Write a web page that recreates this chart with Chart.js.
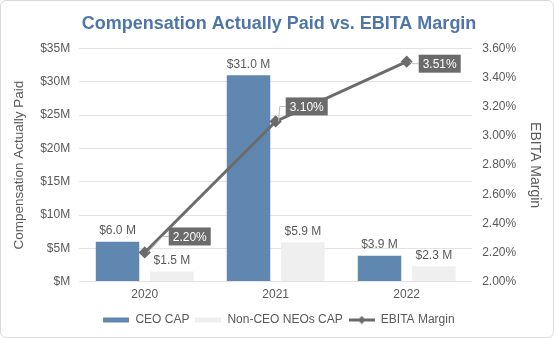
<!DOCTYPE html>
<html>
<head>
<meta charset="utf-8">
<script src="https://cdn.jsdelivr.net/npm/chart.js@4"></script>
<style>
  html, body { margin: 0; padding: 0; background: #ffffff; }
  #frame {
    position: absolute; left: 0; top: 0;
    width: 552px; height: 336px;
    border: 1px solid #d9d9d9; border-radius: 6px;
    background: #ffffff; overflow: hidden;
  }
  canvas { display: block; }
</style>
</head>
<body>
<div id="frame"><canvas id="chart" width="552" height="336"></canvas></div>
<script>
// Fiscal years
const years = ['2020', '2021', '2022'];
// Compensation actually paid, in dollars
const ceoCap = [6.0e6, 31.0e6, 3.9e6];
const nonCeoCap = [1.5e6, 5.9e6, 2.3e6];
// EBITA margin, percent
const ebitaMargin = [2.20, 3.10, 3.51];

const FONT = "'Liberation Sans', Arial, sans-serif";
const GREY_TEXT = '#595959';
const CEO_BLUE = '#6087b0';
const NEO_GREY = '#efefef';
const LINE_GREY = '#6b6b6b';

const moneyLabel = v => '$' + (v / 1e6).toFixed(1) + ' M';
const pctLabel = v => v.toFixed(2) + '%';

// Small legend swatches: flat bars for the columns, a line with a diamond for the margin
function swatch(kind, color) {
  const c = document.createElement('canvas');
  c.width = 26; c.height = 9;
  const g = c.getContext('2d');
  if (kind === 'bar') {
    g.fillStyle = color;
    g.fillRect(0, 2, 26, 5);
  } else {
    g.strokeStyle = color; g.lineWidth = 3;
    g.beginPath(); g.moveTo(0, 4.5); g.lineTo(26, 4.5); g.stroke();
    g.fillStyle = color;
    g.beginPath(); g.moveTo(13, 0.5); g.lineTo(17, 4.5); g.lineTo(13, 8.5); g.lineTo(9, 4.5); g.closePath(); g.fill();
  }
  return c;
}

// Value labels: plain text over the bars, boxed callouts for the margin line
const valueLabels = {
  id: 'valueLabels',
  afterDatasetsDraw(chart, args, opts) {
    const ctx = chart.ctx;
    ctx.save();
    ctx.font = '12px ' + FONT;
    ctx.textAlign = 'center';
    ctx.textBaseline = 'bottom';
    ctx.fillStyle = GREY_TEXT;
    [0, 1].forEach(di => {
      const meta = chart.getDatasetMeta(di);
      meta.data.forEach((bar, i) => {
        const v = chart.data.datasets[di].data[i];
        ctx.fillText(moneyLabel(v), bar.x, bar.y - 5);
      });
    });

    const lineMeta = chart.getDatasetMeta(2);
    lineMeta.data.forEach((pt, i) => {
      const v = chart.data.datasets[2].data[i];
      const off = opts.callouts[i];
      const text = pctLabel(v);
      const w = ctx.measureText(text).width + 8;
      const h = 18;
      const bx = pt.x + off.dx;
      const cy = pt.y + off.dy;
      // leader line
      ctx.strokeStyle = '#bfbfbf';
      ctx.lineWidth = 1;
      ctx.beginPath();
      ctx.moveTo(pt.x + 3, pt.y);
      ctx.lineTo(bx - 6, cy);
      ctx.lineTo(bx, cy);
      ctx.stroke();
      // box
      ctx.fillStyle = LINE_GREY;
      ctx.fillRect(bx, cy - h / 2, w, h);
      ctx.fillStyle = '#ffffff';
      ctx.textAlign = 'left';
      ctx.textBaseline = 'middle';
      ctx.fillText(text, bx + 4, cy + 1);
    });
    ctx.restore();
  }
};

new Chart(document.getElementById('chart'), {
  data: {
    labels: years,
    datasets: [
      {
        type: 'bar', label: 'CEO CAP', data: ceoCap, yAxisID: 'y',
        backgroundColor: CEO_BLUE, order: 2,
        categoryPercentage: 0.83, barPercentage: 0.8
      },
      {
        type: 'bar', label: 'Non-CEO NEOs CAP', data: nonCeoCap, yAxisID: 'y',
        backgroundColor: NEO_GREY, order: 3,
        categoryPercentage: 0.83, barPercentage: 0.8
      },
      {
        type: 'line', label: 'EBITA Margin', data: ebitaMargin, yAxisID: 'y1',
        borderColor: LINE_GREY, backgroundColor: LINE_GREY, borderWidth: 3,
        pointStyle: 'rectRot', pointRadius: 4, pointBackgroundColor: LINE_GREY,
        pointBorderColor: LINE_GREY, tension: 0, order: 1
      }
    ]
  },
  options: {
    responsive: false,
    animation: false,
    devicePixelRatio: 1,
    layout: { padding: { left: 10, right: 6, top: 4, bottom: 1 } },
    plugins: {
      title: {
        display: true,
        text: 'Compensation Actually Paid vs. EBITA Margin',
        color: '#4f76a8',
        font: { family: FONT, size: 18, weight: 'bold' },
        padding: { top: 8, bottom: 14 }
      },
      legend: {
        position: 'bottom',
        labels: {
          color: GREY_TEXT,
          font: { family: FONT, size: 12 },
          usePointStyle: true,
          pointStyleWidth: 26,
          boxHeight: 9,
          padding: 6,
          generateLabels(chart) {
            return chart.data.datasets.map((ds, i) => ({
              text: ds.label,
              fillStyle: ds.backgroundColor,
              strokeStyle: ds.backgroundColor,
              lineWidth: 0,
              pointStyle: swatch(ds.type === 'line' ? 'line' : 'bar', ds.backgroundColor),
              fontColor: GREY_TEXT,
              datasetIndex: i,
              hidden: false
            }));
          }
        }
      },
      tooltip: { enabled: false },
      valueLabels: {
        callouts: [ { dx: 24, dy: -16 }, { dx: 10, dy: -15 }, { dx: 12, dy: 2 } ]
      }
    },
    scales: {
      x: {
        grid: { display: false, drawTicks: false },
        border: { display: false },
        ticks: { color: GREY_TEXT, font: { family: FONT, size: 12 }, padding: 6 }
      },
      y: {
        position: 'left',
        min: 0, max: 35e6,
        ticks: {
          stepSize: 5e6, color: GREY_TEXT, font: { family: FONT, size: 12 }, padding: 9,
          callback: v => '$' + (v === 0 ? '' : v / 1e6) + 'M'
        },
        grid: { color: '#e3e3e3', drawTicks: false },
        border: { display: false },
        title: {
          display: true, text: 'Compensation Actually Paid',
          color: GREY_TEXT, font: { family: FONT, size: 13.5 }, padding: { top: 0, bottom: 4 }
        }
      },
      y1: {
        position: 'right',
        min: 2.0, max: 3.6,
        ticks: {
          stepSize: 0.2, color: GREY_TEXT, font: { family: FONT, size: 12 }, padding: 10,
          callback: v => v.toFixed(2) + '%'
        },
        grid: { display: false, drawTicks: false },
        border: { display: false },
        title: {
          display: true, text: 'EBITA Margin',
          color: GREY_TEXT, font: { family: FONT, size: 14 }, padding: { top: 4, bottom: 0 }
        }
      }
    }
  },
  plugins: [valueLabels]
});
</script>
</body>
</html>
